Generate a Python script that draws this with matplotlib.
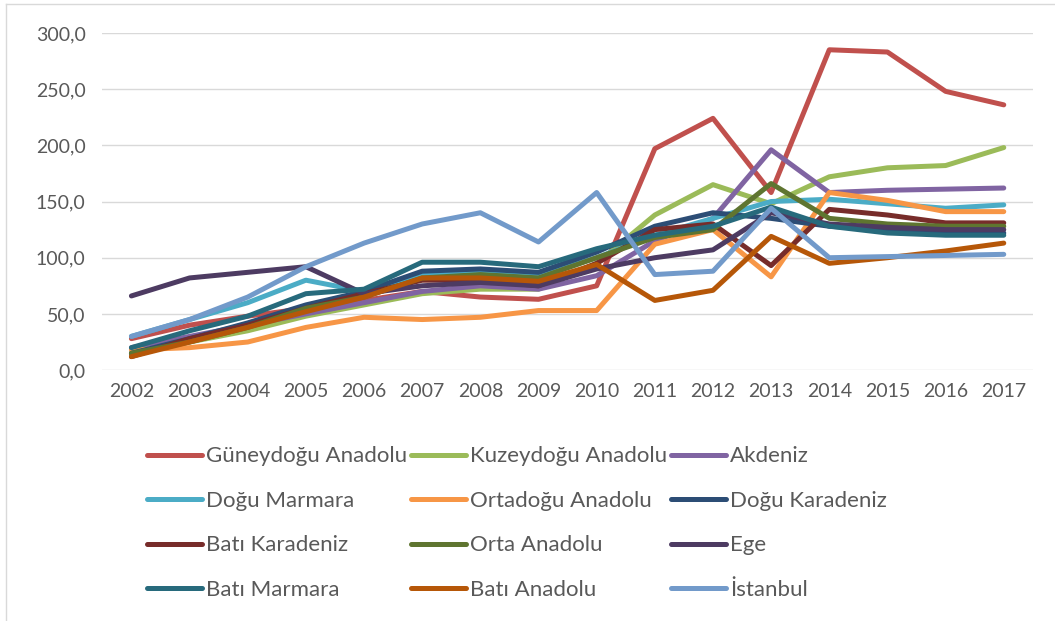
import numpy as np
import matplotlib.pyplot as plt
from matplotlib.lines import Line2D

plt.rcParams['font.family'] = ['Lato', 'DejaVu Sans']

years = [str(y) for y in range(2002, 2018)]

guneydogu = [28, 40, 48, 55, 62, 70, 65, 63, 75, 197, 224, 158, 285, 283, 248, 236]
kuzeydogu = [15, 25, 35, 48, 58, 68, 72, 72, 95, 138, 165, 148, 172, 180, 182, 198]
akdeniz = [20, 30, 40, 50, 60, 70, 75, 72, 84, 115, 135, 196, 158, 160, 161, 162]
dogu_marmara = [30, 45, 60, 80, 70, 85, 88, 85, 100, 120, 135, 150, 152, 148, 144, 147]
ortadogu = [18, 20, 25, 38, 47, 45, 47, 53, 53, 112, 125, 83, 158, 151, 141, 141]
dogu_karadeniz = [15, 28, 42, 58, 70, 88, 90, 87, 105, 128, 140, 135, 128, 125, 122, 122]
bati_karadeniz = [12, 28, 40, 55, 68, 80, 80, 75, 95, 125, 130, 93, 143, 138, 131, 131]
orta_anadolu = [15, 25, 38, 55, 65, 82, 85, 82, 100, 118, 125, 166, 135, 130, 128, 128]
ege = [66, 82, 87, 92, 68, 75, 78, 75, 90, 100, 107, 140, 130, 127, 125, 125]
bati_marmara = [20, 35, 48, 68, 72, 96, 96, 92, 108, 120, 128, 145, 128, 122, 120, 120]
bati_anadolu = [12, 25, 38, 52, 65, 82, 82, 79, 94, 62, 71, 119, 95, 100, 106, 113]
istanbul = [30, 45, 65, 92, 113, 130, 140, 114, 158, 85, 88, 144, 100, 101, 102, 103]

labels = ["Güneydoğu Anadolu", "Kuzeydoğu Anadolu", "Akdeniz",
          "Doğu Marmara", "Ortadoğu Anadolu", "Doğu Karadeniz",
          "Batı Karadeniz", "Orta Anadolu", "Ege",
          "Batı Marmara", "Batı Anadolu", "İstanbul"]
series = [guneydogu, kuzeydogu, akdeniz, dogu_marmara, ortadogu, dogu_karadeniz,
          bati_karadeniz, orta_anadolu, ege, bati_marmara, bati_anadolu, istanbul]
colors = ["#C0504D", "#9BBB59", "#8064A2", "#4BACC6", "#F79646", "#2C4D75",
          "#772C2A", "#5F7530", "#4D3B62", "#276A7C", "#B65708", "#729ACA"]

fig = plt.figure(figsize=(10.55, 6.21), dpi=100)
ax = fig.add_axes([0.097, 0.404, 0.882, 0.543])

x = np.arange(len(years))
handles = []
for s, c, l in zip(series, colors, labels):
    h, = ax.plot(x, s, color=c, lw=3.6, label=l, solid_joinstyle='round', solid_capstyle='round')
    handles.append(h)

ax.set_xlim(-0.5, len(years) - 0.5)
ax.set_ylim(0, 300)
ax.set_yticks(np.arange(0, 301, 50))
ax.set_yticklabels([f"{v:.1f}".replace(".", ",") for v in np.arange(0, 301, 50)])
ax.set_xticks(x)
ax.set_xticklabels(years)
ax.tick_params(length=0, labelsize=14, colors="#595959")
ax.tick_params(axis='y', pad=12)
ax.tick_params(axis='x', pad=9)
ax.grid(axis='y', color="#D9D9D9", lw=1)
ax.set_axisbelow(True)
for sp in ax.spines.values():
    sp.set_visible(False)

# legend: rows filled left to right, so reorder for column-wise fill
order = [0, 3, 6, 9, 1, 4, 7, 10, 2, 5, 8, 11]
fig.legend([handles[i] for i in order], [labels[i] for i in order],
           ncol=3, loc='upper left', bbox_to_anchor=(0.139, 0.281),
           frameon=False, fontsize=16, handlelength=2.5, handletextpad=0.18,
           columnspacing=0.15, labelspacing=1.1, borderpad=0, borderaxespad=0,
           labelcolor="#595959")

# faint chart-area border (left and top)
fig.add_artist(Line2D([6 / 1055, 6 / 1055], [0, 1 - 4 / 621], color="#D9D9D9", lw=1))
fig.add_artist(Line2D([6 / 1055, 1], [1 - 4 / 621, 1 - 4 / 621], color="#D9D9D9", lw=1))

fig.savefig("out.png", dpi=100)
